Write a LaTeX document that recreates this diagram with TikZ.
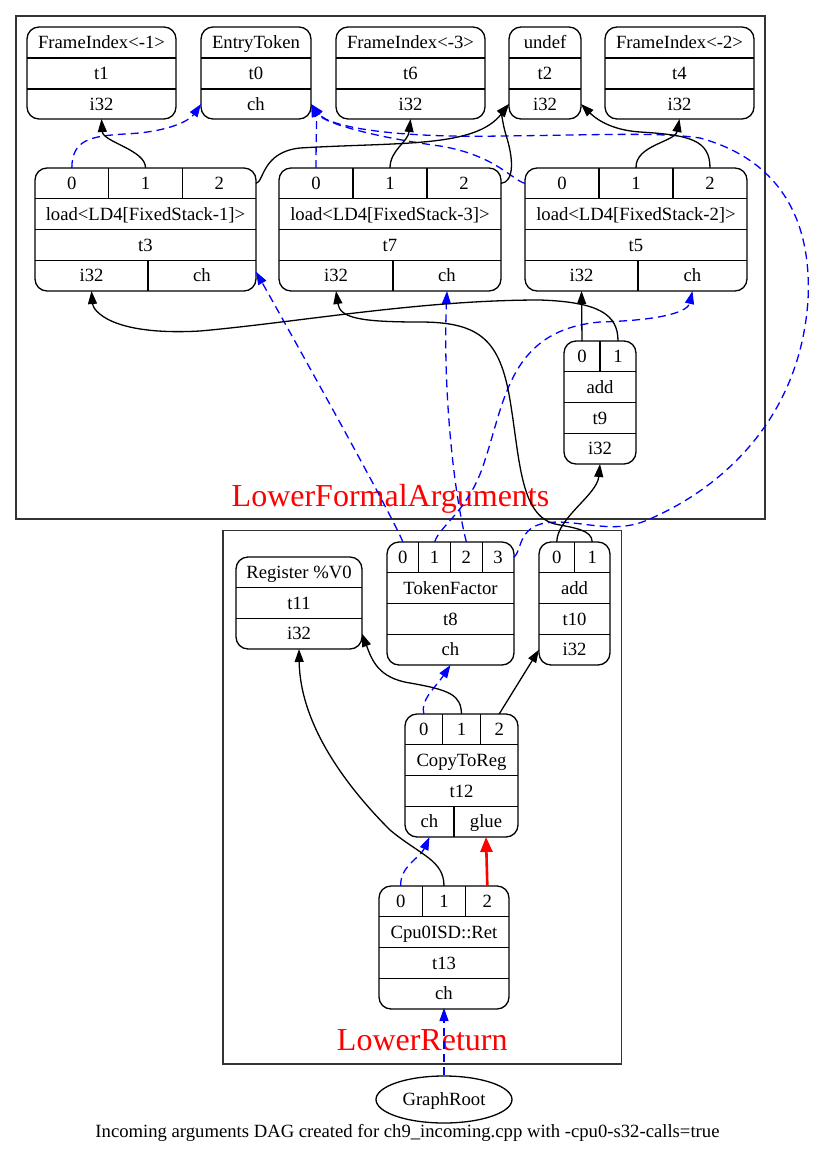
\documentclass[tikz,border=0pt]{standalone}
\usepackage{fontspec}
\setmainfont{Liberation Serif}
\usetikzlibrary{arrows.meta,shapes.geometric}

\newcommand\nodefont{\fontsize{18.67}{22}\selectfont}
\newcommand\clusterfont{\fontsize{32}{38}\selectfont}

\tikzset{
  rec/.style={draw, line width=1.3pt, rounded corners=12pt, inner sep=0pt, outer sep=0pt},
  cellbox/.style={inner sep=0pt, outer sep=0pt, font=\nodefont,
                  text height=12.4pt, text depth=0pt},
  rowline/.style={line width=1.3pt},
  dep/.style={line width=1.3pt, -{Triangle[length=13pt,width=9pt]}},
  chain/.style={dep, blue, dash pattern=on 8pt off 5pt},
  gluedep/.style={line width=2.6pt, red, -{Triangle[length=15pt,width=12pt]}},
  cluster/.style={draw=black!80, line width=1.5pt, inner sep=0pt},
  clabel/.style={text=red, font=\clusterfont, anchor=base, inner sep=0pt},
}

% one cell of a record: name, x left, x right, y top, y bottom, text
\newcommand\dagcell[6]{%
  \node[cellbox, minimum width={(#3)-(#2)}, minimum height={(#5)-(#4)}]
    (#1) at ({((#2)+(#3))/2},{((#4)+(#5))/2}) {#6};}

% record with a port row: name, x left, x right, y top, ports, op, id
\newcommand\portrec[7]{%
  \node[rec, minimum width={(#3)-(#2)}, minimum height=123] (#1) at ({((#2)+(#3))/2},{(#4)+61.5}) {};
  \pgfmathsetmacro\pw{((#3)-(#2))/#5}
  \pgfmathtruncatemacro\plast{#5-1}
  \foreach \k in {0,...,\plast}{
    \dagcell{#1-p\k}{#2+\k*\pw}{#2+\k*\pw+\pw}{#4}{#4+30.75}{\k}
  }
  \foreach \k in {1,...,\plast} \draw[rowline] (#1-p\k.north west) -- (#1-p\k.south west);
  \dagcell{#1-a}{#2}{#3}{#4+30.75}{#4+61.5}{#6}
  \dagcell{#1-b}{#2}{#3}{#4+61.5}{#4+92.25}{#7}
  \draw[rowline] (#1-a.north west) -- (#1-a.north east)
                 (#1-b.north west) -- (#1-b.north east)
                 (#1-b.south west) -- (#1-b.south east);
}

\begin{document}
\begin{tikzpicture}[x=1pt, y=-1pt]
  \path[use as bounding box, fill=white] (0,0) rectangle (815,1160);

  % --- clusters ---
  \node[cluster, minimum width=749, minimum height=503] (lfa) at (390.5,267.5) {};
  \node[clabel] (lfa-lbl) at (390.5,506) {LowerFormalArguments};
  \node[cluster, minimum width=398.5, minimum height=533.5] (lret) at (422.25,797.25) {};
  \node[clabel] (lret-lbl) at (422.25,1050) {LowerReturn};

  % --- top row: frame indices, entry token, undef ---
  \foreach \n/\xa/\xb/\ta/\tc in {t1/27/176/FrameIndex<-1>/i32, t0/201/311/EntryToken/ch,
      t6/336/485/FrameIndex<-3>/i32, t2/509/581/undef/i32, t4/605/754/FrameIndex<-2>/i32}{
    \node[rec, minimum width={\xb-\xa}, minimum height=92] (\n) at ({(\xa+\xb)/2},73) {};
    \dagcell{\n-a}{\xa}{\xb}{27}{58}{\ta}
    \dagcell{\n-b}{\xa}{\xb}{58}{89}{\n}
    \dagcell{\n-c}{\xa}{\xb}{89}{119}{\tc}
    \draw[rowline] (\n-b.north west) -- (\n-b.north east) (\n-b.south west) -- (\n-b.south east);
  }

  % --- loads ---
  \foreach \n/\xa/\xb/\xs/\fs in {t3/35/256/148/1, t7/279/501/393/3, t5/525/747/638/2}{
    \portrec{\n}{\xa}{\xb}{168}{3}{load<LD4[FixedStack-\fs]>}{\n}
    \dagcell{\n-i}{\xa}{\xs}{260.25}{291}{i32}
    \dagcell{\n-h}{\xs}{\xb}{260.25}{291}{ch}
    \draw[rowline] (\n-h.north west) -- (\n-h.south west);
  }

  % --- add t9 ---
  \portrec{t9}{564}{636}{341}{2}{add}{t9}
  \dagcell{t9-c}{564}{636}{433.25}{464}{i32}

  % --- LowerReturn nodes ---
  \node[rec, minimum width=126, minimum height=92] (t11) at (299,603) {};
  \dagcell{t11-a}{236}{362}{557}{587.67}{Register \%V0}
  \dagcell{t11-b}{236}{362}{587.67}{618.33}{t11}
  \dagcell{t11-c}{236}{362}{618.33}{649}{i32}
  \draw[rowline] (t11-b.north west) -- (t11-b.north east) (t11-b.south west) -- (t11-b.south east);

  \portrec{t8}{387}{514}{542}{4}{TokenFactor}{t8}
  \dagcell{t8-c}{387}{514}{634.25}{665}{ch}

  \portrec{t10}{539}{610}{542}{2}{add}{t10}
  \dagcell{t10-c}{539}{610}{634.25}{665}{i32}

  \portrec{t12}{405}{518}{714}{3}{CopyToReg}{t12}
  \dagcell{t12-h}{405}{454}{806.25}{837}{ch}
  \dagcell{t12-g}{454}{518}{806.25}{837}{glue}
  \draw[rowline] (t12-g.north west) -- (t12-g.south west);

  \portrec{t13}{379}{509}{886}{3}{Cpu0ISD::Ret}{t13}
  \dagcell{t13-c}{379}{509}{978.25}{1008}{ch}

  \node[draw, ellipse, line width=1.3pt, minimum width=136, minimum height=47, inner sep=0pt,
        font=\nodefont, text height=12.4pt, text depth=0pt] (root) at (444,1099.5) {GraphRoot};

  \node[cellbox, anchor=base] (caption) at (407.5,1137)
    {Incoming arguments DAG created for ch9\_incoming.cpp with -cpu0-s32-calls=true};

  % --- chain edges ---
  \draw[chain] (t3-p0.north) .. controls (72,140) and (90,136) .. (125,134)
    .. controls (170,132) and (190,120) .. (t0-c.west);
  \draw[chain] (t7-p0.north) .. controls (316,140) and (317,118) .. (t0-c.east);
  \draw[chain] (t5-p0.west) .. controls (512,180) and (495,155) .. (440,146)
    .. controls (380,138) and (325,124) .. (t0-c.east);
  \draw[chain] (t8-p3.east) .. controls (522,550) and (518,528) .. (545,523)
    .. controls (575,518) and (610,535) .. (645,521)
    .. controls (720,490) and (800,420) .. (808,300)
    .. controls (812,220) and (780,160) .. (700,138)
    .. controls (660,132) and (600,135) .. (500,136)
    .. controls (400,138) and (330,128) .. (t0-c.east);
  \draw[chain] (t8-p0.north) .. controls (392,515) and (300,350) .. ([yshift=4pt]t3-h.east);
  \draw[chain] (t8-p1.north) .. controls (440,525) and (470,510) .. (485,460)
    .. controls (505,400) and (510,330) .. (600,322)
    .. controls (670,320) and (688,310) .. (t5-h.south);
  \draw[chain] (t8-p2.north) .. controls (452,485) and (443,380) .. (t7-h.south);
  \draw[chain] (t12-p0.north) .. controls (420,700) and (435,688) .. (t8-c.south);
  \draw[chain] (t13-p0.north) .. controls (400,866) and (420,858) .. (t12-h.south);
  \draw[chain] (root.north) -- (t13-c.south);

  % --- value edges ---
  \draw[dep] (t3-p1.north) .. controls (146,150) and (103,142) .. (t1-c.south);
  \draw[dep] (t3-p2.east) .. controls (264,182) and (262,152) .. (300,148)
    .. controls (400,142) and (475,148) .. (t2-c.west);
  \draw[dep] (t7-p1.north) .. controls (390,150) and (408,142) .. (t6-c.south);
  \draw[dep] (t7-p2.east) .. controls (514,182) and (514,160) .. (506,135)
    .. controls (502,122) and (502,112) .. (t2-c.west);
  \draw[dep] (t5-p1.north) .. controls (635,145) and (675,142) .. (t4-c.south);
  \draw[dep] (t5-p2.north) .. controls (710,140) and (690,135) .. (640,132)
    .. controls (610,130) and (595,118) .. (t2-c.east);
  \draw[dep] (t9-p0.north) -- (t5-i.south);
  \draw[dep] (t9-p1.north) .. controls (618,315) and (600,302) .. (540,300)
    .. controls (420,300) and (300,322) .. (200,331)
    .. controls (110,336) and (93,310) .. (t3-i.south);
  \draw[dep] (t10-p0.north) .. controls (557,518) and (597,495) .. (t9-c.south);
  \draw[dep] (t10-p1.north) .. controls (592,530) and (575,528) .. (555,524)
    .. controls (520,515) and (520,460) .. (510,400)
    .. controls (500,340) and (480,322) .. (420,322)
    .. controls (360,322) and (340,318) .. (t7-i.south);
  \draw[dep] (t12-p1.north) .. controls (461,695) and (450,690) .. (410,683)
    .. controls (378,678) and (372,660) .. (t11-c.east);
  \draw[dep] (t12-p2.north) -- (t10-c.west);
  \draw[dep] (t13-p1.north) .. controls (444,860) and (420,855) .. (390,830)
    .. controls (340,780) and (300,720) .. (t11-c.south);
  \draw[gluedep] (t13-p2.north) -- (t12-g.south);
\end{tikzpicture}
\end{document}
